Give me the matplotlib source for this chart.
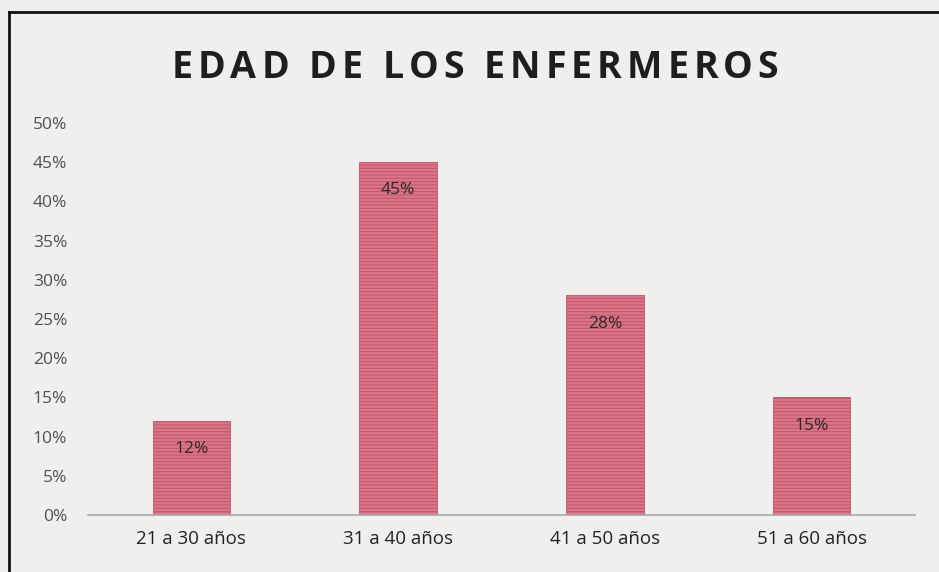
import matplotlib.pyplot as plt
from matplotlib.lines import Line2D

plt.rcParams['font.family'] = ['Open Sans', 'DejaVu Sans']
plt.rcParams['hatch.color'] = '#f6dde2'
plt.rcParams['hatch.linewidth'] = 0.8

categorias = ['21 a 30 años', '31 a 40 años', '41 a 50 años', '51 a 60 años']
porcentajes = [0.12, 0.45, 0.28, 0.15]
etiquetas = ['12%', '45%', '28%', '15%']
yticks = [0, 0.05, 0.10, 0.15, 0.20, 0.25, 0.30, 0.35, 0.40, 0.45, 0.50]
titulo = 'EDAD DE LOS ENFERMEROS'

fig = plt.figure(figsize=(9.39, 5.72), dpi=100, facecolor='#eff0ee')
ax = fig.add_axes([88 / 939, 1 - 515 / 572, (915 - 88) / 939, (515 - 123) / 572])
ax.set_facecolor('#eff0ee')

x = range(len(categorias))
bars = ax.bar(x, porcentajes, width=0.375, color='#d97789', edgecolor='#c4566a',
              linewidth=0.6, hatch='-----')

for b, t in zip(bars, etiquetas):
    ax.text(b.get_x() + b.get_width() / 2, b.get_height() - 0.036, t,
            ha='center', va='center', fontsize=12.5, color='#2a2a2a')

ax.set_xlim(-0.5, 3.5)
ax.set_ylim(0, 0.5)
ax.set_yticks(yticks)
ax.set_yticklabels([f'{int(round(v * 100))}%' for v in yticks], fontsize=12.5, color='#505050')
ax.set_xticks(list(x))
ax.set_xticklabels(categorias, fontsize=13.5, color='#222222')
ax.tick_params(axis='y', length=0, pad=15)
ax.tick_params(axis='x', length=0, pad=11)

for s in ['top', 'right', 'left']:
    ax.spines[s].set_visible(False)
ax.spines['bottom'].set_color('#a8a8a8')
ax.spines['bottom'].set_linewidth(1.2)

# titulo con espaciado entre letras
fig.canvas.draw()
renderer = fig.canvas.get_renderer()
props = dict(fontsize=27, fontweight='bold', color='#1e1e1e', va='center', ha='left')
tracking = 5  # px
anchos = []
for ch in titulo:
    t = fig.text(0, 0, ch if ch != ' ' else 'n', **props)
    w = t.get_window_extent(renderer).width
    t.remove()
    anchos.append(w * (0.4 if ch == ' ' else 1))
total = sum(anchos) + tracking * (len(titulo) - 1)
xpos = 475 - total / 2
for ch, w in zip(titulo, anchos):
    if ch != ' ':
        fig.text(xpos / 939, 1 - 68 / 572, ch, **props)
    xpos += w + tracking

# marco negro
fig.add_artist(Line2D([9 / 939, 9 / 939], [0, 1 - 12 / 572], color='#111111', linewidth=2))
fig.add_artist(Line2D([9 / 939, 1], [1 - 12 / 572, 1 - 12 / 572], color='#111111', linewidth=2))

fig.savefig('out.png', dpi=100, facecolor=fig.get_facecolor())
